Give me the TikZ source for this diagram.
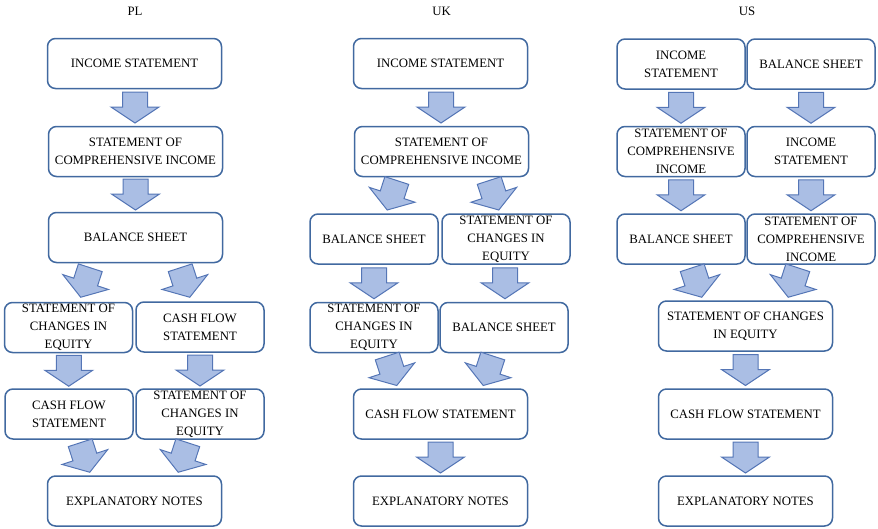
\documentclass[tikz,border=0pt]{standalone}
\usepackage{fontspec}
\setmainfont{Liberation Serif}
\usetikzlibrary{calc}
\definecolor{boxline}{RGB}{65,105,160}
\definecolor{arrfill}{RGB}{170,190,228}
\definecolor{arrline}{RGB}{85,118,182}
\tikzset{
  box/.style={draw=boxline, line width=1.5pt, fill=white, rounded corners=8pt,
    minimum height=50pt, inner sep=0pt, align=center,
    font=\fontsize{12.8}{18}\selectfont},
  bigbox/.style={box, minimum width=174pt},
  smallbox/.style={box, minimum width=128pt},
  title/.style={font=\fontsize{12.8}{15}\selectfont, inner sep=0pt},
  arrowstyle/.style={draw=arrline, line width=1pt, fill=arrfill, line join=miter},
  barrow/.pic={\path[arrowstyle] (-12.5,15.5) -- (-12.5,0.5) -- (-24,0.5) -- (0,-15.5) -- (24,0.5) -- (12.5,0.5) -- (12.5,15.5) -- cycle;}
}
\begin{document}
\begin{tikzpicture}[x=1pt,y=1pt]
\useasboundingbox (0,0) rectangle (878,-528);
% titles
\node[title] (tPL) at (135,-11) {PL};
\node[title] (tUK) at (441.5,-11) {UK};
\node[title] (tUS) at (747,-11) {US};
% ---------- PL ----------
\node[bigbox] (plIS) at (134.5,-63.5) {INCOME STATEMENT};
\node[bigbox] (plCI) at (135.5,-151.5) {STATEMENT OF\\COMPREHENSIVE INCOME};
\node[bigbox] (plBS) at (135.5,-237.5) {BALANCE SHEET};
\node[smallbox] (plSE) at (68.5,-327.5) {STATEMENT OF\\CHANGES IN\\EQUITY};
\node[smallbox] (plCF) at (200,-327) {CASH FLOW\\STATEMENT};
\node[smallbox] (plCF2) at (69,-414) {CASH FLOW\\STATEMENT};
\node[smallbox] (plSE2) at (200,-414) {STATEMENT OF\\CHANGES IN\\EQUITY};
\node[bigbox] (plEN) at (134.5,-501) {EXPLANATORY NOTES};
% ---------- UK ----------
\node[bigbox] (ukIS) at (440.5,-63.5) {INCOME STATEMENT};
\node[bigbox] (ukCI) at (441.5,-151.5) {STATEMENT OF\\COMPREHENSIVE INCOME};
\node[smallbox] (ukBS) at (374,-239) {BALANCE SHEET};
\node[smallbox] (ukSE) at (506,-239) {STATEMENT OF\\CHANGES IN\\EQUITY};
\node[smallbox] (ukSE2) at (374,-327.5) {STATEMENT OF\\CHANGES IN\\EQUITY};
\node[smallbox] (ukBS2) at (504,-327.5) {BALANCE SHEET};
\node[bigbox] (ukCF) at (440.5,-414) {CASH FLOW STATEMENT};
\node[bigbox] (ukEN) at (440.5,-501) {EXPLANATORY NOTES};
% ---------- US ----------
\node[smallbox] (usIS) at (681,-64) {INCOME\\STATEMENT};
\node[smallbox] (usBS) at (811,-64) {BALANCE SHEET};
\node[smallbox] (usCI) at (681,-151.5) {STATEMENT OF\\COMPREHENSIVE\\INCOME};
\node[smallbox] (usIS2) at (811,-151.5) {INCOME\\STATEMENT};
\node[smallbox] (usBS2) at (681,-239) {BALANCE SHEET};
\node[smallbox] (usCI2) at (811,-239) {STATEMENT OF\\COMPREHENSIVE\\INCOME};
\node[bigbox] (usSE) at (745.5,-326) {STATEMENT OF CHANGES\\IN EQUITY};
\node[bigbox] (usCF) at (745.5,-414) {CASH FLOW STATEMENT};
\node[bigbox] (usEN) at (745.5,-501) {EXPLANATORY NOTES};
% ---------- straight arrows ----------
\foreach \a/\b in {plIS/plCI, plCI/plBS, plSE/plCF2, plCF/plSE2,
                   ukIS/ukCI, ukBS/ukSE2, ukSE/ukBS2, ukCF/ukEN,
                   usIS/usCI, usBS/usIS2, usCI/usBS2, usIS2/usCI2, usSE/usCF, usCF/usEN}
  \pic at ($(\a.south)!0.5!(\b.north)$) {barrow};
% ---------- tilted arrows ----------
% PL diverging
\coordinate (m1) at ($(plBS.south)!0.5!(plSE.north)$);
\coordinate (x1) at ($(plSE.north)+(17,0)$);
\coordinate (x2) at ($(plCF.north)+(-15,0)$);
\pic[rotate=-18] at (x1 |- m1) {barrow};
\pic[rotate=18] at (x2 |- m1) {barrow};
% PL converging
\coordinate (m2) at ($(plCF2.south)!0.5!(plEN.north)$);
\coordinate (x3) at ($(plCF2.south)+(16,0)$);
\coordinate (x4) at ($(plSE2.south)+(-17,0)$);
\pic[rotate=18] at (x3 |- m2) {barrow};
\pic[rotate=-18] at (x4 |- m2) {barrow};
% UK diverging
\coordinate (m3) at ($(ukCI.south)!0.5!(ukBS.north)$);
\coordinate (x5) at ($(ukBS.north)+(18,0)$);
\coordinate (x6) at ($(ukSE.north)+(-12,0)$);
\pic[rotate=-18] at (x5 |- m3) {barrow};
\pic[rotate=18] at (x6 |- m3) {barrow};
% UK converging
\coordinate (m4) at ($(ukSE2.south)!0.5!(ukCF.north)$);
\coordinate (x7) at ($(ukSE2.south)+(18,0)$);
\coordinate (x8) at ($(ukBS2.south)+(-16,0)$);
\pic[rotate=18] at (x7 |- m4) {barrow};
\pic[rotate=-18] at (x8 |- m4) {barrow};
% US converging
\coordinate (m5) at ($(usBS2.south)!0.5!(usSE.north)$);
\coordinate (x9) at ($(usBS2.south)+(16,0)$);
\coordinate (x10) at ($(usCI2.south)+(-18,0)$);
\pic[rotate=18] at (x9 |- m5) {barrow};
\pic[rotate=-18] at (x10 |- m5) {barrow};
\end{tikzpicture}
\end{document}
